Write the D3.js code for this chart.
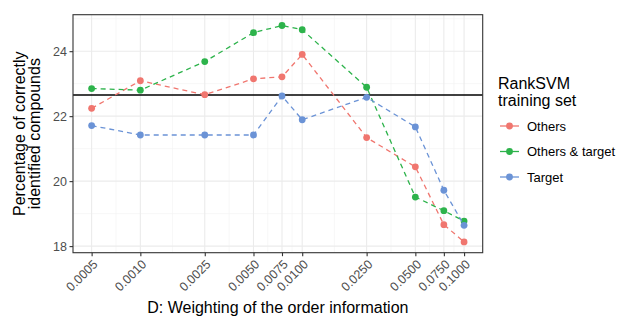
<!DOCTYPE html>
<html lang="en">
<head>
<meta charset="utf-8">
<title>RankSVM weighting</title>
<script src="https://cdn.jsdelivr.net/npm/d3@7/dist/d3.min.js"></script>
<style>
  body { margin: 0; background: #fff; }
  text { font-family: "Liberation Sans", Arial, sans-serif; }
</style>
</head>
<body>
<script>
var width = 619, height = 320;

// data
var weights = [0.0005, 0.0010, 0.0025, 0.0050, 0.0075, 0.0100, 0.0250, 0.0500, 0.0750, 0.1000];
var weightLabels = ["0.0005", "0.0010", "0.0025", "0.0050", "0.0075", "0.0100", "0.0250", "0.0500", "0.0750", "0.1000"];
var others = [22.24, 23.09, 22.66, 23.15, 23.21, 23.90, 21.34, 20.44, 18.66, 18.13];
var othersTarget = [22.85, 22.80, 23.68, 24.57, 24.79, 24.66, 22.89, 19.51, 19.09, 18.77];
var target = [21.71, 21.42, 21.42, 21.42, 22.62, 21.89, 22.58, 21.67, 19.72, 18.64];
var baseline = 22.65;
var seriesNames = ["Others", "Others & target", "Target"];
var seriesColors = ["#F0766F", "#2DB34B", "#6B93D6"];
var yTicks = [18, 20, 22, 24];

var series = [others, othersTarget, target];

var panel = {left: 73, top: 14.7, right: 482.7, bottom: 252.7};

var svg = d3.select("body").append("svg")
            .attr("width", width)
            .attr("height", height);

// ggplot-like 5% expansion in log space
var lx0 = Math.log10(0.0005), lx1 = Math.log10(0.1);
var xpad = (lx1 - lx0) * 0.05;
var x = d3.scaleLog()
          .domain([Math.pow(10, lx0 - xpad), Math.pow(10, lx1 + xpad)])
          .range([panel.left, panel.right]);

var ymin = 18.13, ymax = 24.79;
var ypad = (ymax - ymin) * 0.05;
var y = d3.scaleLinear()
          .domain([ymin - ypad, ymax + ypad])
          .range([panel.bottom, panel.top]);

// minor grid: midpoints between major breaks
var xMinor = [];
for (var i = 0; i < weights.length - 1; i++) {
  xMinor.push(Math.sqrt(weights[i] * weights[i + 1]));
}
var yMinor = [19, 21, 23, 25];

var grid = svg.append("g");
grid.selectAll(".xminor").data(xMinor).enter().append("line")
    .attr("x1", d => x(d)).attr("x2", d => x(d))
    .attr("y1", panel.top).attr("y2", panel.bottom)
    .attr("stroke", "#F2F2F2").attr("stroke-width", 0.6);
grid.selectAll(".yminor").data(yMinor).enter().append("line")
    .attr("y1", d => y(d)).attr("y2", d => y(d))
    .attr("x1", panel.left).attr("x2", panel.right)
    .attr("stroke", "#F2F2F2").attr("stroke-width", 0.6);
grid.selectAll(".xmajor").data(weights).enter().append("line")
    .attr("x1", d => x(d)).attr("x2", d => x(d))
    .attr("y1", panel.top).attr("y2", panel.bottom)
    .attr("stroke", "#EBEBEB").attr("stroke-width", 1.1);
grid.selectAll(".ymajor").data(yTicks).enter().append("line")
    .attr("y1", d => y(d)).attr("y2", d => y(d))
    .attr("x1", panel.left).attr("x2", panel.right)
    .attr("stroke", "#EBEBEB").attr("stroke-width", 1.1);

// reference line
svg.append("line")
   .attr("x1", panel.left).attr("x2", panel.right)
   .attr("y1", y(baseline)).attr("y2", y(baseline))
   .attr("stroke", "#000").attr("stroke-width", 1.5);

// series
var line = d3.line()
             .x((d, i) => x(weights[i]))
             .y(d => y(d));

series.forEach(function (s, k) {
  svg.append("path")
     .attr("d", line(s))
     .attr("fill", "none")
     .attr("stroke", seriesColors[k])
     .attr("stroke-width", 1.3)
     .attr("stroke-dasharray", "5,4");
  svg.append("g").selectAll("circle")
     .data(s).enter().append("circle")
     .attr("cx", (d, i) => x(weights[i]))
     .attr("cy", d => y(d))
     .attr("r", 3.4)
     .attr("fill", seriesColors[k]);
});

// panel border
svg.append("rect")
   .attr("x", panel.left).attr("y", panel.top)
   .attr("width", panel.right - panel.left)
   .attr("height", panel.bottom - panel.top)
   .attr("fill", "none")
   .attr("stroke", "#333333")
   .attr("stroke-width", 1.1);

// axes
var xAxis = svg.append("g")
               .attr("transform", "translate(0," + panel.bottom + ")")
               .call(d3.axisBottom(x).tickValues(weights).tickSize(3.5).tickFormat((d, i) => weightLabels[i]));
xAxis.select(".domain").remove();
xAxis.selectAll(".tick line").attr("stroke", "#333333").attr("stroke-width", 1.1);
xAxis.selectAll(".tick text")
     .attr("fill", "#4D4D4D")
     .attr("font-size", 12.5)
     .attr("text-anchor", "end")
     .attr("y", 0)
     .attr("dy", "0.71em")
     .attr("transform", "translate(0,6) rotate(-45)");

var yAxis = svg.append("g")
               .attr("transform", "translate(" + panel.left + ",0)")
               .call(d3.axisLeft(y).tickValues(yTicks).tickSize(3.5));
yAxis.select(".domain").remove();
yAxis.selectAll(".tick line").attr("stroke", "#333333").attr("stroke-width", 1.1);
yAxis.selectAll(".tick text")
     .attr("fill", "#4D4D4D")
     .attr("font-size", 12.5)
     .attr("x", -6);

// axis titles
svg.append("text")
   .attr("x", (panel.left + panel.right) / 2)
   .attr("y", 313)
   .attr("text-anchor", "middle")
   .attr("font-size", 16)
   .attr("fill", "#000")
   .text("D: Weighting of the order information");

var ytitle = svg.append("text")
                .attr("transform", "translate(25," + ((panel.top + panel.bottom) / 2) + ") rotate(-90)")
                .attr("text-anchor", "middle")
                .attr("font-size", 16)
                .attr("fill", "#000");
ytitle.append("tspan").attr("x", 0).attr("y", 0).text("Percentage of correctly");
ytitle.append("tspan").attr("x", 0).attr("y", 15).text("identified compounds");

// legend
var legend = svg.append("g");
legend.append("text").attr("x", 498).attr("y", 89).attr("font-size", 16).text("RankSVM");
legend.append("text").attr("x", 498).attr("y", 106).attr("font-size", 16).text("training set");

seriesNames.forEach(function (name, k) {
  var cy = 126 + k * 25.5;
  legend.append("line")
        .attr("x1", 500).attr("x2", 519)
        .attr("y1", cy).attr("y2", cy)
        .attr("stroke", seriesColors[k])
        .attr("stroke-width", 1.3);
  legend.append("circle")
        .attr("cx", 509.5).attr("cy", cy).attr("r", 3.4)
        .attr("fill", seriesColors[k]);
  legend.append("text")
        .attr("x", 527).attr("y", cy)
        .attr("dy", "0.35em")
        .attr("font-size", 13)
        .attr("fill", "#000")
        .text(name);
});
</script>
</body>
</html>
